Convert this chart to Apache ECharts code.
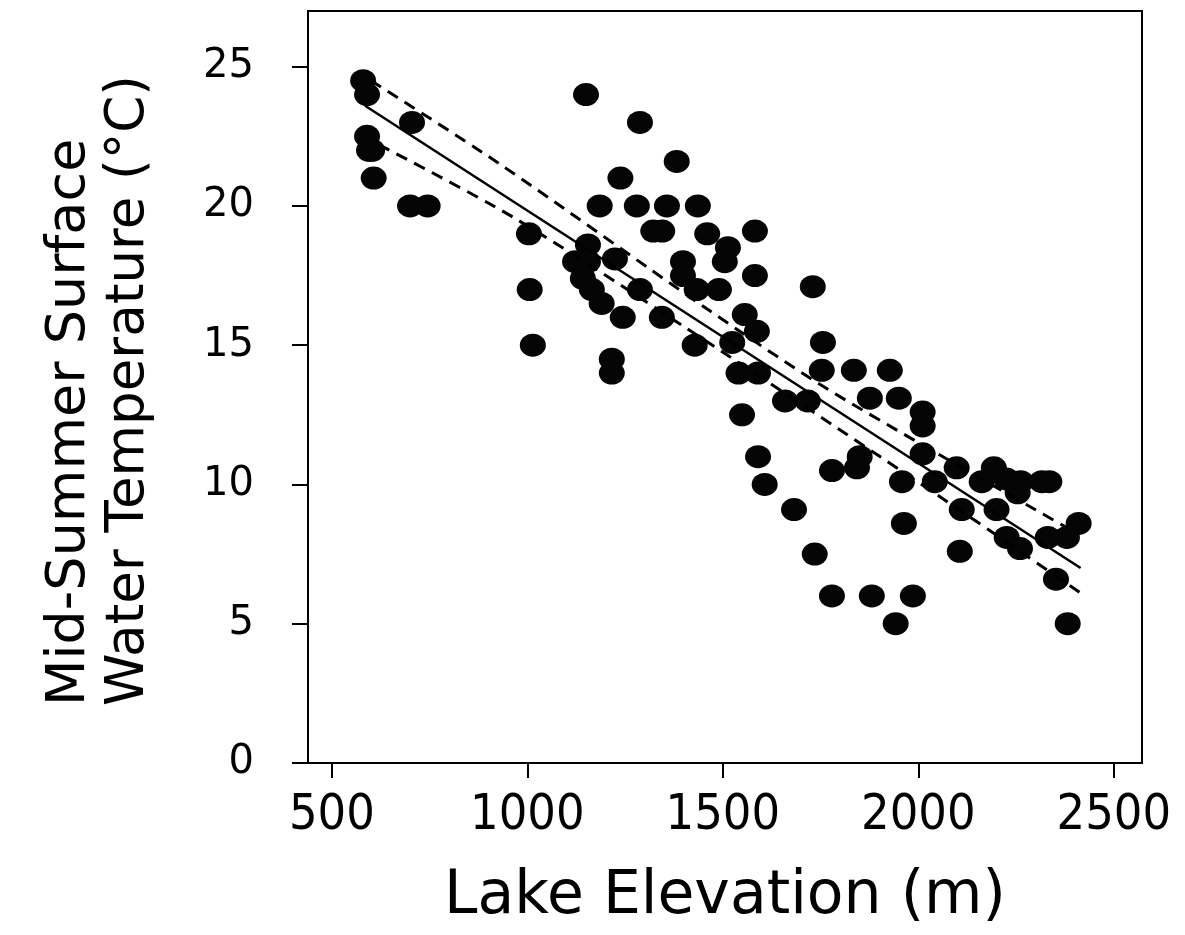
<!DOCTYPE html>
<html>
<head>
<meta charset="utf-8">
<script src="https://cdn.jsdelivr.net/npm/echarts@6/dist/echarts.min.js"></script>
<style>
html,body{margin:0;padding:0;background:#fff;}
#chart{width:1185px;height:935px;}
</style>
</head>
<body>
<div id="chart"></div>
<script>
// Lake elevation (m) and mid-summer surface water temperature (°C)
const elevation = [
  580, 590, 590, 595, 603, 607, 705, 700, 745,
  1004, 1006, 1014, 1150, 1288, 1382, 1238, 1185, 1280, 1357, 1322, 1345,
  1436, 1460, 1513, 1505, 1582, 1582, 1398, 1398, 1433, 1490,
  1155, 1122, 1155, 1224, 1142, 1165, 1190, 1244, 1288, 1344, 1428,
  1216, 1216, 1556, 1587, 1524, 1540, 1590, 1549, 1590, 1607, 1682,
  1735, 1779, 1881, 1986, 1942, 2382, 1730, 1756, 1753, 1835, 1927,
  1659, 1717, 1876, 1950, 2011, 2011, 2011, 1779, 1843, 1850, 1958,
  2042, 2098, 2193, 2162, 2225, 2262, 2254, 2316, 2335, 2111, 2200,
  1963, 2410, 2226, 2260, 2331, 2380, 2106, 2352
];
const temperature = [
  24.5, 24.0, 22.5, 22.0, 22.0, 21.0, 23.0, 20.0, 20.0,
  19.0, 17.0, 15.0, 24.0, 23.0, 21.6, 21.0, 20.0, 20.0, 20.0, 19.1, 19.1,
  20.0, 19.0, 18.5, 18.0, 19.1, 17.5, 18.0, 17.5, 17.0, 17.0,
  18.6, 18.0, 18.0, 18.1, 17.4, 17.0, 16.5, 16.0, 17.0, 16.0, 15.0,
  14.5, 14.0, 16.1, 15.5, 15.1, 14.0, 14.0, 12.5, 11.0, 10.0, 9.1,
  7.5, 6.0, 6.0, 6.0, 5.0, 5.0, 17.1, 15.1, 14.1, 14.1, 14.1,
  13.0, 13.0, 13.1, 13.1, 12.6, 12.1, 11.1, 10.5, 10.6, 11.0, 10.1,
  10.1, 10.6, 10.6, 10.1, 10.2, 10.1, 9.7, 10.1, 10.1, 9.1, 9.1,
  8.6, 8.6, 8.1, 7.7, 8.1, 8.1, 7.6, 6.6
];
// Regression line and its confidence band
const fitElev = [585, 2415];
const fitTemp = [23.6, 7.0];
const upperElev = [600, 930, 1460, 1748, 2050, 2380];
const upperTemp = [24.5, 21.5, 16.3, 13.6, 11.1, 8.45];
const lowerElev = [620, 963, 1408, 2088, 2415];
const lowerTemp = [22.2, 19.6, 15.6, 9.25, 6.1];
// Axis ticks
const xTicks = [500, 1000, 1500, 2000, 2500];
const yTicks = [0, 5, 10, 15, 20, 25];
const xTitle = 'Lake Elevation (m)';
const yTitle1 = 'Mid-Summer Surface';
const yTitle2 = 'Water Temperature (°C)';

const zip = (a, b) => a.map((v, i) => [v, b[i]]);

const chart = echarts.init(document.getElementById('chart'), null, {renderer: 'canvas'});
const ink = '#000';
const wide = '"DejaVu Sans", sans-serif';
const narrow = '"DejaVu Sans Condensed", "DejaVu Sans", sans-serif';
chart.setOption({
  animation: false,
  backgroundColor: '#fff',
  grid: {left: 308, right: 43, top: 11, bottom: 172, show: true, borderColor: ink, borderWidth: 2, backgroundColor: 'transparent'},
  xAxis: {
    type: 'value', min: 439, max: 2572,
    name: xTitle, nameLocation: 'middle', nameGap: 104,
    nameTextStyle: {fontFamily: wide, fontSize: 60, color: ink},
    axisLine: {show: true, onZero: false, lineStyle: {color: ink, width: 2}},
    axisTick: {show: true, inside: false, length: 15, lineStyle: {color: ink, width: 2}, customValues: xTicks},
    axisLabel: {margin: 28, fontFamily: narrow, fontSize: 50, color: ink, customValues: xTicks,
                formatter: v => String(v)},
    splitLine: {show: false}
  },
  yAxis: {
    type: 'value', min: 0, max: 27,
    axisLine: {show: true, onZero: false, lineStyle: {color: ink, width: 2}},
    axisTick: {show: true, inside: false, length: 16, lineStyle: {color: ink, width: 2}, customValues: yTicks},
    axisLabel: {margin: 54, fontFamily: wide, fontSize: 40, color: ink, customValues: yTicks,
                formatter: v => String(v)},
    splitLine: {show: false}
  },
  graphic: [
    {type: 'text', x: 70, y: 706, rotation: Math.PI / 2,
     style: {text: yTitle1, fontFamily: wide, fontSize: 54, fill: ink, textAlign: 'left', textVerticalAlign: 'middle'}},
    {type: 'text', x: 129, y: 706, rotation: Math.PI / 2,
     style: {text: yTitle2, fontFamily: wide, fontSize: 53, fill: ink, textAlign: 'left', textVerticalAlign: 'middle'}}
  ],
  series: [
    {type: 'scatter', data: zip(elevation, temperature), symbol: 'circle', symbolSize: [26, 23],
     itemStyle: {color: '#050505', opacity: 1}, z: 3},
    {type: 'line', data: zip(fitElev, fitTemp), showSymbol: false, symbol: 'none',
     lineStyle: {color: ink, width: 2.5, type: 'solid'}, z: 4},
    {type: 'line', data: zip(upperElev, upperTemp), showSymbol: false, symbol: 'none', smooth: 0.3,
     lineStyle: {color: ink, width: 3, type: [12, 8]}, z: 4},
    {type: 'line', data: zip(lowerElev, lowerTemp), showSymbol: false, symbol: 'none', smooth: 0.3,
     lineStyle: {color: ink, width: 3, type: [12, 8]}, z: 4}
  ]
});
</script>
</body>
</html>
